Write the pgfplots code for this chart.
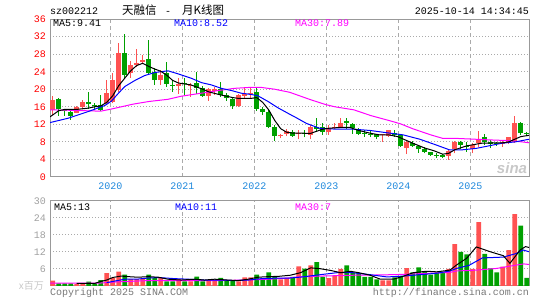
\documentclass[border=0pt]{standalone}
\usepackage{fontspec}
\usepackage{pgfplots}
\usepackage{pgfplotstable}
\pgfplotsset{compat=1.18}
\newfontfamily\mono{Liberation Mono}
\newfontfamily\cjk{Noto Sans CJK SC}
\newfontfamily\logo{Liberation Sans}
\definecolor{cred}{RGB}{255,82,82}
\definecolor{cgreen}{RGB}{0,160,0}
\definecolor{framegray}{RGB}{153,153,153}
\definecolor{gridgray}{RGB}{170,170,170}
\definecolor{yearblue}{RGB}{30,136,220}
\definecolor{txtgray}{RGB}{120,120,120}
\definecolor{volgray}{RGB}{160,160,160}
\definecolor{lightgray}{RGB}{200,200,200}
\definecolor{mag}{RGB}{255,0,255}
\definecolor{pblue}{RGB}{0,0,255}
\definecolor{pred}{RGB}{255,0,0}

\pgfplotstableread{
i o c h l v
-10 15.26 17.54 18.45 14.1 1.9
-6 14.65 15.9 16.2 14.5 0.7
-5 15.9 17.2 17.5 15.6 0.9
-1 16.8 19.2 22.1 16.4 4.5
0 17.2 22.1 23.6 16.8 2.8
1 19.8 28.2 30.6 19.4 5.1
3 23.6 25.5 26.5 22.6 2.4
4 25.5 26.0 29.2 25.1 2.4
5 26.3 26.6 27.8 25.9 2.8
8 22.1 23.2 24.4 21.0 2.8
11 20.7 21.3 22.5 19.0 2.4
13 20.7 21.0 21.5 18.3 1.6
16 18.5 20.0 20.2 17.4 2.1
17 19.5 20.0 20.4 18.7 2.1
21 16.2 18.7 18.8 16.0 1.6
22 18.5 18.8 20.4 17.9 3.0
23 19.0 19.25 20.2 17.9 3.0
28 9.3 9.55 9.9 8.8 2.3
29 9.8 10.5 10.9 9.3 2.9
31 9.7 9.95 10.7 8.6 6.9
33 9.6 11.3 11.8 8.6 7.3
36 10.3 11.1 11.8 9.6 2.8
37 11.2 11.45 12.4 10.9 3.7
38 11.3 12.4 13.4 11.1 6.0
45 9.5 9.75 9.9 8.0 2.0
46 9.4 10.6 10.7 9.2 2.0
49 6.5 8.0 8.3 5.2 6.3
56 4.8 5.9 6.2 3.9 6.0
57 6.3 8.0 8.3 5.4 14.8
60 6.3 7.3 7.7 5.4 6.0
61 7.8 8.6 10.5 6.9 22.5
65 7.5 8.0 8.4 6.8 6.8
66 7.9 9.0 9.2 7.5 12.7
67 8.0 12.2 13.9 7.8 25.4
}\upT

\pgfplotstableread{
i o c h l v
-9 17.8 15.4 18.1 13.9 0.9
-8 15.2 15.0 15.3 13.9 0.9
-7 14.9 13.9 15.3 13.1 0.9
-4 17.2 16.55 19.4 15.6 1.5
-3 16.5 16.25 16.8 15.2 0.9
-2 16.4 15.3 18.7 15.1 2.1
2 28.3 23.2 32.6 22.5 4.0
6 26.8 23.8 31.2 23.4 4.0
7 24.0 22.1 24.8 21.0 2.8
9 23.6 21.3 26.3 20.6 1.6
10 21.0 20.7 22.1 19.4 1.6
12 21.4 21.15 22.5 18.7 1.6
14 21.5 20.2 24.0 19.0 3.3
15 20.2 18.5 20.7 18.3 1.6
18 20.0 18.7 21.7 18.3 2.9
19 18.7 17.9 19.1 17.4 1.9
20 17.8 16.2 18.1 15.6 1.9
24 19.4 15.6 20.2 15.1 4.0
25 15.6 14.9 16.0 14.1 2.6
26 14.9 11.5 15.3 11.1 4.8
27 11.5 9.3 11.8 8.3 3.3
30 10.3 9.4 10.7 9.2 3.2
32 10.0 9.75 10.7 9.0 6.1
34 11.3 11.05 13.4 10.3 8.4
35 11.3 10.3 12.2 9.6 3.2
39 12.8 12.2 13.4 10.9 7.3
40 12.1 11.1 12.4 9.9 4.6
41 10.6 9.9 11.1 9.6 4.5
42 10.0 9.75 10.6 9.2 3.2
43 9.9 9.65 10.6 9.2 3.2
44 9.7 9.0 9.9 8.6 2.3
47 10.1 9.6 10.7 9.2 3.0
48 9.6 7.1 9.9 6.9 3.5
50 7.8 7.1 8.3 6.8 4.8
51 7.1 6.3 7.3 5.5 6.6
52 6.3 5.7 6.8 5.4 5.0
53 5.7 5.0 5.8 4.8 4.0
54 5.05 4.8 5.4 4.3 4.7
55 5.0 4.6 5.2 4.3 4.7
58 7.9 7.3 8.3 6.3 12.0
59 7.1 6.85 8.0 5.8 11.2
62 9.0 8.0 9.9 7.3 11.3
63 8.0 7.5 8.4 6.5 6.2
64 7.7 7.45 8.0 7.1 4.8
68 12.4 10.1 12.6 9.6 21.3
69 10.0 9.75 10.3 9.3 2.9
}\downT

\pgfplotsset{
  sinabase/.style={
    scale only axis, width=479bp, anchor=south west,
    xmin=-10.45, xmax=69.38,
    xtick={-0.4,11.6,23.6,35.6,47.6,59.6},
    xmajorgrids, ymajorgrids,
    x grid style={gridgray, line width=1bp, dash pattern=on 4bp off 3bp},
    y grid style={gridgray, line width=1bp, dash pattern=on 1bp off 2bp},
    axis line style={framegray, line width=1bp},
    major tick length=0pt,
    yticklabel style={font=\mono\fontsize{10bp}{10bp}\selectfont, inner sep=0pt, xshift=-4bp},
    xticklabel style={font=\mono\fontsize{10bp}{10bp}\selectfont, text=yearblue, inner sep=0pt, yshift=-6bp},
  },
  wick/.style={draw=none, mark=none, mark size=0pt, forget plot,
    error bars/.cd, y dir=plus, y explicit, error mark=none,
    error bar style={line width=1bp, draw=#1, solid}},
  body/.style={draw=none, mark=none, mark size=0pt, forget plot,
    error bars/.cd, y dir=plus, y explicit, error mark=none,
    error bar style={line width=4.6bp, draw=#1, solid}},
}

\begin{document}
\begin{tikzpicture}
\path[use as bounding box] (0,0) rectangle (545bp,300bp);

% ---------- price panel ----------
\begin{axis}[sinabase, at={(50bp,123bp)}, height=158bp,
  ymin=0, ymax=36, ytick={0,4,...,36},
  yticklabels={0,4,8,12,16,20,24,28,32,36},
  yticklabel style={text=pred},
  xticklabels={2020,2021,2022,2023,2024,2025}]
\addplot [wick=cred] table [x=i, y=l, y error plus expr=\thisrow{h}-\thisrow{l}] {\upT};
\addplot [wick=cgreen] table [x=i, y=l, y error plus expr=\thisrow{h}-\thisrow{l}] {\downT};
\addplot [body=cred] table [x=i, y=o, y error plus expr=\thisrow{c}-\thisrow{o}] {\upT};
\addplot [body=cgreen] table [x=i, y=c, y error plus expr=\thisrow{o}-\thisrow{c}] {\downT};
% MA30
\addplot [mag, line width=1bp, mark=none] coordinates {
(-10.45,15.3) (-7,15.2) (-2,15.0) (-0.5,15.4) (3.4,16.6) (6,17.2) (9.2,17.7)
(11.4,18.4) (14.8,19.1) (17.6,19.7) (20.3,20.2) (22.6,20.4) (24.8,20.4) (27,20.0)
(29.5,19.3) (33,17.6) (35.5,16.5) (37,16.0) (40.2,15.3) (43,14.0) (46.5,12.7)
(48,12.1) (50,11.0) (53,9.6) (55,8.8) (57.2,8.8) (60.5,8.6) (63.8,8.4) (66,8.3)
(68.2,8.0) (69.38,7.8)};
% MA10
\addplot [pblue, line width=1bp, mark=none] coordinates {
(-10.45,12.4) (-7.4,13.4) (-4.1,14.9) (-1.3,16.3) (-0.2,17.3) (0.9,19.0) (2,20.6)
(3.7,22.0) (5.3,23.1) (7,23.8) (9.2,24.2) (10.9,23.5) (13.1,22.5) (14.8,21.5)
(16.4,21.0) (18.1,20.2) (19.8,19.7) (21.4,19.1) (23.1,18.8) (24.2,18.5) (25.9,17.2)
(27.5,15.8) (29.5,14.3) (30.6,13.5) (32.3,12.2) (34.5,11.1) (37.3,10.9) (40.1,10.9)
(42.9,10.6) (45.6,10.1) (48.4,9.6) (51.2,8.6) (53.9,7.3) (56.1,6.2) (58.3,6.2)
(60.5,6.5) (62.7,7.1) (64.9,7.7) (67.1,8.0) (69.38,8.6)};
% MA5
\addplot [black, line width=1bp, mark=none] coordinates {
(-10.45,13.7) (-9,15.1) (-8,15.4) (-6,15.4) (-4,15.7) (-3,16.0) (-2,16.2) (-1,17.0)
(0,18.5) (1,20.8) (2,22.5) (3,24.2) (4,25.4) (5,25.9) (6,25.2) (7,24.6) (8,24.1)
(9,23.2) (10,22.0) (11,21.4) (13,21.0) (15,20.0) (16,19.4) (18,18.7) (20,18.1)
(21,17.9) (23,17.9) (24,18.1) (25,17.0) (26,15.3) (27,12.9) (28,11.0) (29,10.2)
(30,10.0) (33,9.95) (35,10.9) (36,11.1) (38,11.3) (39.5,11.3) (41,10.6) (43,9.95)
(44.5,9.6) (46,9.6) (47.5,9.2) (48.5,8.6) (50,7.7) (52,6.6) (53.5,6.0) (55,5.2)
(56,5.4) (57,6.2) (59,7.1) (61.5,7.7) (65,7.8) (66,8.0) (67,8.6) (68,9.2) (69.38,9.5)};
\end{axis}

% ---------- volume panel ----------
\begin{axis}[sinabase, at={(50bp,14bp)}, height=85bp,
  ymin=0, ymax=30, ytick={6,12,18,24,30},
  yticklabels={6,12,18,24,30},
  yticklabel style={text=volgray},
  xticklabels={}]
\addplot [ybar, bar width=4.6bp, bar shift=0pt, fill=cred, draw=none, forget plot] table [x=i, y=v] {\upT};
\addplot [ybar, bar width=4.6bp, bar shift=0pt, fill=cgreen, draw=none, forget plot] table [x=i, y=v] {\downT};
\addplot [mag, line width=1bp, mark=none] coordinates {
(-10.45,1.05) (-2,1.05) (0.3,1.4) (5.9,1.9) (11,1.9) (17,1.9) (22,2.1) (26,2.4)
(29.2,2.8) (30.7,3.2) (34.6,3.5) (40.2,3.8) (44.6,3.9) (48.4,4.1) (52.9,4.5)
(56.2,4.8) (57.3,5.3) (60.6,5.6) (64,6.2) (66.2,7.0) (68.5,7.8) (69.38,7.6)};
\addplot [pblue, line width=1bp, mark=none] coordinates {
(-1,1.2) (0,1.6) (2,2.4) (4,2.4) (5.9,2.8) (7.6,3.0) (10.3,2.6) (12.6,2.4) (15.3,2.1)
(18.1,2.1) (20.3,1.9) (22.6,2.1) (24.8,2.6) (27.6,2.8) (29.5,2.8) (31.6,3.2)
(34.6,4.0) (37.4,4.7) (40,4.7) (42.9,4.0) (45.7,3.2) (48.5,3.5) (51.2,4.0) (54,4.5)
(56.2,5.3) (57.3,6.2) (59.4,7.3) (61.6,9.9) (65.1,10.2) (67.3,11.5) (68.4,12.7) (69.38,12.1)};
\addplot [black, line width=1bp, mark=none] coordinates {
(-6,0.9) (-3,0.9) (-2,1.6) (-1,2.1) (0,3.0) (1.4,3.5) (2.6,3.3) (4.2,3.1) (5.9,3.3)
(7.6,3.1) (9.2,2.4) (11.4,2.1) (13.7,2.4) (15.3,2.1) (17,2.4) (19.2,2.1) (20.9,1.9)
(22.6,2.4) (24.2,3.1) (25.9,3.3) (27.6,3.4) (29.6,3.8) (31.3,4.7) (33,6.4) (34.6,6.1)
(36.3,5.5) (38,4.7) (39.6,5.2) (41,4.7) (42.9,3.8) (44.6,2.4) (46.8,2.4) (48.5,3.5)
(50.1,4.7) (52.3,5.2) (54,5.0) (56.2,5.6) (57.3,7.4) (59,9.8) (60.6,13.8) (62.9,12.1)
(65.1,10.7) (66.2,8.0) (67.9,12.7) (68.8,13.9) (69.38,13.6)};
\end{axis}

% ---------- texts ----------
\def\mf{\mono\fontsize{10bp}{10bp}\selectfont}
\def\cf{\cjk\fontsize{11.5bp}{12bp}\selectfont}
\node[anchor=base west, inner sep=0pt, font=\mf] at (50bp,285bp) {sz002212};
\node[anchor=base west, inner sep=0pt, font=\cf] at (122bp,285bp) {天融信};
\node[anchor=base west, inner sep=0pt, font=\mf] at (165bp,285bp) {-};
\node[anchor=base west, inner sep=0pt, font=\cf] at (182bp,285bp) {月K线图};
\node[anchor=base east, inner sep=0pt, font=\mf] at (529bp,285bp) {2025-10-14 14:34:45};

\node[anchor=west, inner sep=0pt, font=\mf] at (53bp,276.5bp) {MA5:9.41};
\node[anchor=west, inner sep=0pt, font=\mf, text=pblue] at (174bp,276.5bp) {MA10:8.52};
\node[anchor=west, inner sep=0pt, font=\mf, text=mag] at (295bp,276.5bp) {MA30:7.89};

\node[anchor=west, inner sep=0pt, font=\mf] at (54bp,92.5bp) {MA5:13};
\node[anchor=west, inner sep=0pt, font=\mf, text=pblue] at (175bp,92.5bp) {MA10:11};
\node[anchor=west, inner sep=0pt, font=\mf, text=mag] at (295bp,92.5bp) {MA30:7};

\node[anchor=east, inner sep=0pt, font=\cjk\fontsize{10bp}{10bp}\selectfont, text=lightgray] at (44bp,14bp) {x百万};

\node[anchor=west, inner sep=0pt, font=\mf, text=txtgray] at (50bp,7bp) {Copyright 2025 SINA.COM};
\node[anchor=east, inner sep=0pt, font=\mf, text=txtgray] at (529bp,7bp) {http://finance.sina.com.cn};

\node[anchor=center, inner sep=0pt, font=\logo\bfseries\itshape\fontsize{15bp}{15bp}\selectfont, text=lightgray] at (512bp,132bp) {sina};
\end{tikzpicture}
\end{document}
